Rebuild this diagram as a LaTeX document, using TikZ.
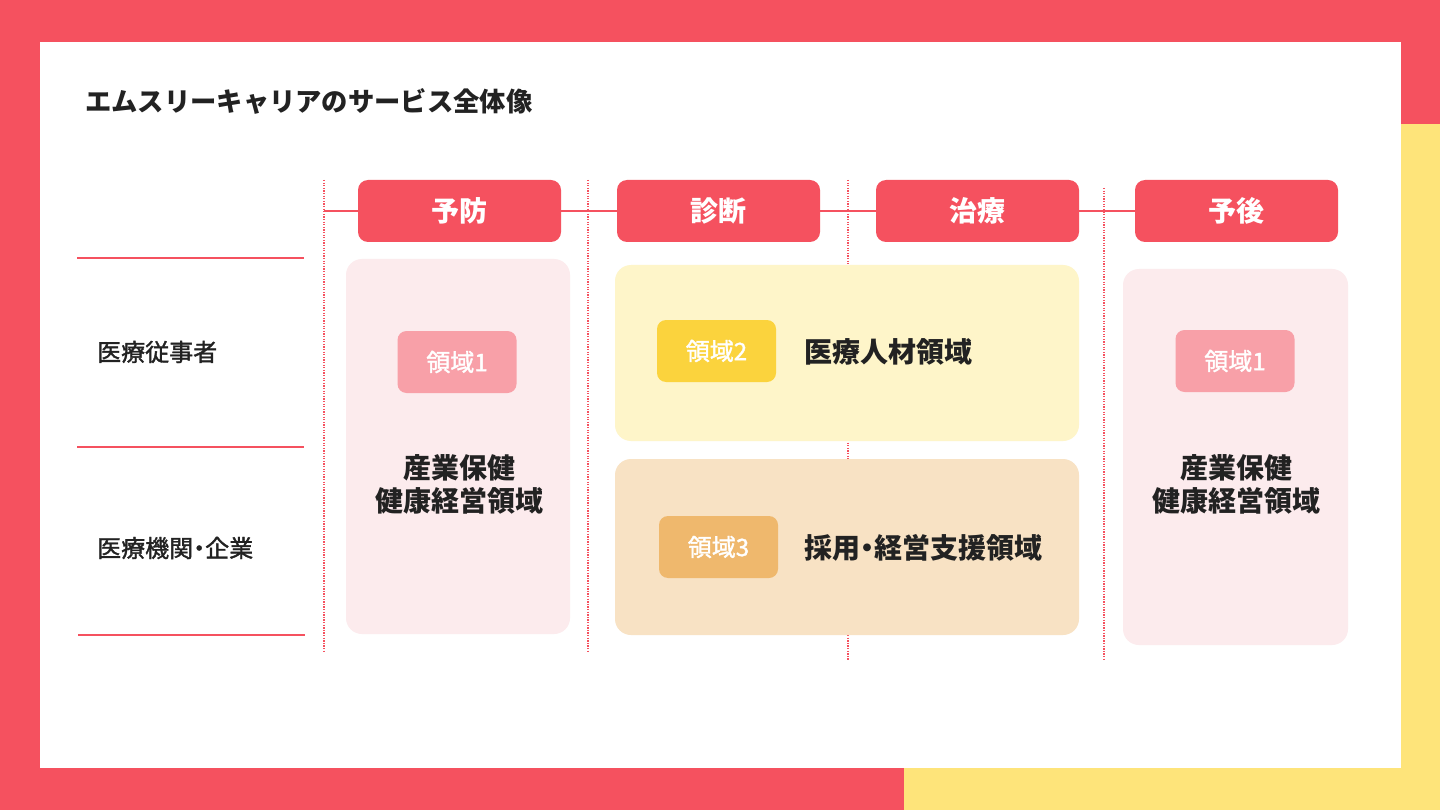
\documentclass[tikz,border=0pt]{standalone}
\usepackage{fontspec}
\newfontfamily\jp{Noto Sans CJK JP}
\newfontfamily\jpm[FakeBold=1.5]{Noto Sans CJK JP}
\newfontfamily\jpmp[FakeBold=1.5,RawFeature=+palt]{Noto Sans CJK JP}
\newfontfamily\jpbp[RawFeature=+palt]{Noto Sans CJK JP}
\definecolor{mred}{HTML}{F5515F}
\definecolor{myel}{HTML}{FEE47A}
\definecolor{pinkbg}{HTML}{FCEBED}
\definecolor{pinkbadge}{HTML}{F8A0A8}
\definecolor{yelbg}{HTML}{FEF5C9}
\definecolor{yelbadge}{HTML}{FBD33D}
\definecolor{orabg}{HTML}{F8E2C4}
\definecolor{orabadge}{HTML}{EFB86D}
\definecolor{ink}{HTML}{222222}
\tikzset{
  header/.style={fill=mred, rounded corners=10pt, inner sep=0pt, minimum width=203pt, minimum height=62pt, text=white, font=\jp\bfseries\fontsize{28}{32}\selectfont},
  badge/.style={rounded corners=9pt, inner sep=0pt, minimum width=119pt, minimum height=62pt, text=white, font=\jpm\fontsize{24}{28}\selectfont},
  panel/.style={rounded corners=16pt, inner sep=0pt},
  vdot/.style={draw=mred, line width=1.3pt, dash pattern=on 1.3pt off 1.3pt},
  hline/.style={draw=mred, line width=2pt},
  rowlabel/.style={anchor=west, text=ink, inner sep=0pt, font=\jpm\fontsize{24}{28}\selectfont},
  bigtext/.style={text=ink, inner sep=0pt, font=\jp\bfseries\fontsize{28}{33}\selectfont, align=center},
}
\begin{document}
\begin{tikzpicture}[x=1pt,y=-1pt]
\useasboundingbox (0,0) rectangle (1440,810);
% background
\fill[mred] (0,0) rectangle (1440,810);
\fill[myel] (1401,124) rectangle (1440,810);
\fill[myel] (904,768) rectangle (1440,810);
\fill[white] (40,42) rectangle (1401,768);
% title
\node[anchor=west, inner sep=0pt, text=ink, font=\jp\bfseries\fontsize{26.3}{30}\selectfont] (title) at (85,101) {エムスリーキャリアのサービス全体像};
% left lines
\draw[hline] (77,258) -- (304,258);
\draw[hline] (77,447) -- (304,447);
\draw[hline] (78,635) -- (305,635);
\node[rowlabel] (r1) at (97,352) {医療従事者};
\node[rowlabel, font=\jpmp\fontsize{24}{28}\selectfont] (r2) at (97,548) {医療機関・企業};
% dotted verticals
\draw[vdot] (324,180) -- (324,652);
\draw[vdot] (588,180) -- (588,652);
\draw[vdot] (848,180) -- (848,660);
\draw[vdot] (1104,188) -- (1104,660);
% panels
\node[panel, fill=pinkbg, minimum width=224pt, minimum height=375pt] (p1) at (458,446.5) {};
\node[panel, fill=yelbg, minimum width=464pt, minimum height=176pt] (p2) at (847,353) {};
\node[panel, fill=orabg, minimum width=464pt, minimum height=176pt] (p3) at (847,547) {};
\node[panel, fill=pinkbg, minimum width=225pt, minimum height=376pt] (p4) at (1235.5,457) {};
% headers
\coordinate (hs) at (324,211);
\node[header] (h1) at (459.5,211) {予防};
\node[header] (h2) at (718.5,211) {診断};
\node[header] (h3) at (977.5,211) {治療};
\node[header] (h4) at (1236.5,211) {予後};
\draw[hline] (hs) -- (h1.west);
\draw[hline] (h1.east) -- (h2.west);
\draw[hline] (h2.east) -- (h3.west);
\draw[hline] (h3.east) -- (h4.west);
% badges
\node[badge, fill=pinkbadge] (b1) at (457,362) {領域1};
\node[badge, fill=yelbadge] (b2) at (716.5,351) {領域2};
\node[badge, fill=orabadge] (b3) at (718.5,547) {領域3};
\node[badge, fill=pinkbadge] (b4) at (1235,361) {領域1};
% texts
\node[bigtext] (t1) at (459,484) {産業保健\\健康経営領域};
\node[bigtext] (t4) at (1236,484) {産業保健\\健康経営領域};
\node[bigtext, anchor=west] (t2) at (804,352) {医療人材領域};
\node[bigtext, anchor=west, font=\jpbp\bfseries\fontsize{28}{33}\selectfont] (t3) at (804,548) {採用・経営支援領域};
\end{tikzpicture}
\end{document}
